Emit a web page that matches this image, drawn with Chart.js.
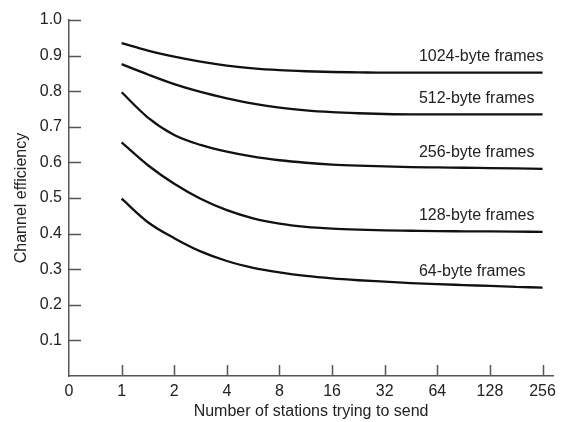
<!DOCTYPE html>
<html>
<head>
<meta charset="utf-8">
<script src="https://cdn.jsdelivr.net/npm/chart.js@4"></script>
<style>
  html, body { margin: 0; padding: 0; background: #fff; }
  #wrap { width: 562px; height: 422px; }
</style>
</head>
<body>
<div id="wrap"><canvas id="grafico"></canvas></div>
<script>
// eixo x: posicoes igualmente espacadas (0..9) com rotulos 0,1,2,4,...,256
const estacoes = ['0', '1', '2', '4', '8', '16', '32', '64', '128', '256'];
const yTicks = [0.1, 0.2, 0.3, 0.4, 0.5, 0.6, 0.7, 0.8, 0.9, 1.0];

const nomesSeries = ['1024-byte frames', '512-byte frames', '256-byte frames', '128-byte frames', '64-byte frames'];

// indice no eixo x onde cada valor foi lido (1 = 1 estacao, 9 = 256 estacoes), a cada meio intervalo
const indiceX = [1, 1.5, 2, 2.5, 3, 3.5, 4, 4.5, 5, 5.5, 6, 6.5, 7, 7.5, 8, 8.5, 9];

const frames1024 = [0.935, 0.914, 0.897, 0.883, 0.872, 0.864, 0.859, 0.856, 0.854, 0.853, 0.852, 0.852, 0.852, 0.852, 0.852, 0.852, 0.852];
const frames512  = [0.876, 0.847, 0.820, 0.798, 0.780, 0.765, 0.754, 0.746, 0.741, 0.738, 0.736, 0.735, 0.735, 0.735, 0.735, 0.735, 0.735];
const frames256  = [0.797, 0.726, 0.677, 0.649, 0.630, 0.616, 0.606, 0.599, 0.594, 0.591, 0.589, 0.587, 0.586, 0.585, 0.584, 0.583, 0.582];
const frames128  = [0.656, 0.592, 0.540, 0.498, 0.466, 0.443, 0.428, 0.419, 0.414, 0.411, 0.409, 0.408, 0.407, 0.4065, 0.406, 0.4055, 0.405];
const frames64   = [0.498, 0.432, 0.387, 0.350, 0.323, 0.304, 0.291, 0.281, 0.274, 0.269, 0.265, 0.261, 0.258, 0.2555, 0.253, 0.2505, 0.248];

const series = [frames1024, frames512, frames256, frames128, frames64];

const corTexto = '#222';
const corEixo = '#555';
const fonte = 'Liberation Sans, Arial, Helvetica, sans-serif';

function pontos(valores) {
    return valores.map((v, i) => ({ x: indiceX[i], y: v }));
}

// marcas dos eixos voltadas para dentro + rotulos das curvas
const marcasPlugin = {
    id: 'marcas',
    afterDraw(chart) {
        const ctx = chart.ctx;
        const xs = chart.scales.x;
        const ys = chart.scales.y;
        ctx.save();
        ctx.strokeStyle = corEixo;
        ctx.lineWidth = 1.5;
        yTicks.forEach(t => {
            const py = Math.round(ys.getPixelForValue(t)) + 0.5;
            ctx.beginPath();
            ctx.moveTo(xs.left, py);
            ctx.lineTo(xs.left + 12, py);
            ctx.stroke();
        });
        for (let i = 1; i < estacoes.length; i++) {
            const px = Math.round(xs.getPixelForValue(i)) + 0.5;
            ctx.beginPath();
            ctx.moveTo(px, ys.bottom);
            ctx.lineTo(px, ys.bottom - 11);
            ctx.stroke();
        }
        ctx.fillStyle = corTexto;
        ctx.font = '16px ' + fonte;
        ctx.textAlign = 'left';
        ctx.textBaseline = 'middle';
        series.forEach((s, i) => {
            const px = xs.getPixelForValue(6.65);
            const py = ys.getPixelForValue(s[s.length - 1]) - 16;
            ctx.fillText(nomesSeries[i], px, py);
        });
        ctx.restore();
    }
};

const datasets = series.map((s, i) => ({
    label: nomesSeries[i],
    data: pontos(s),
    borderColor: '#111',
    borderWidth: 2.3,
    pointRadius: 0,
    fill: false,
    tension: 0.4,
    cubicInterpolationMode: 'monotone'
}));

const grafico = new Chart(document.getElementById('grafico'), {
    type: 'line',
    data: { datasets: datasets },
    plugins: [marcasPlugin],
    options: {
        responsive: true,
        maintainAspectRatio: false,
        animation: false,
        layout: { padding: { top: 20, right: 4, bottom: 0, left: 0 } },
        plugins: {
            legend: { display: false },
            tooltip: { enabled: false }
        },
        scales: {
            x: {
                type: 'linear',
                min: 0,
                max: 9.2,
                afterBuildTicks(scale) {
                    scale.ticks = estacoes.map((e, i) => ({ value: i }));
                },
                afterFit(scale) { scale.height = 46; },
                grid: { display: true, drawOnChartArea: false, drawTicks: false },
                border: { display: true, color: corEixo, width: 1.5 },
                ticks: {
                    padding: 6,
                    color: corTexto,
                    font: { family: fonte, size: 16 },
                    maxRotation: 0,
                    autoSkip: false,
                    callback: v => estacoes[v]
                },
                title: {
                    display: true,
                    text: 'Number of stations trying to send',
                    color: corTexto,
                    font: { family: fonte, size: 16 },
                    padding: { top: 0, bottom: 1 }
                }
            },
            y: {
                min: 0,
                max: 1.0,
                afterBuildTicks(scale) {
                    scale.ticks = yTicks.map(v => ({ value: v }));
                },
                afterFit(scale) { scale.width = 69; },
                grid: { display: true, drawOnChartArea: false, drawTicks: false },
                border: { display: true, color: corEixo, width: 1.5 },
                ticks: {
                    padding: 7,
                    color: corTexto,
                    font: { family: fonte, size: 16 },
                    callback: v => v.toFixed(1)
                },
                title: {
                    display: true,
                    text: 'Channel efficiency',
                    color: corTexto,
                    font: { family: fonte, size: 16 },
                    padding: { top: 12, bottom: 0 }
                }
            }
        }
    }
});
</script>
</body>
</html>
